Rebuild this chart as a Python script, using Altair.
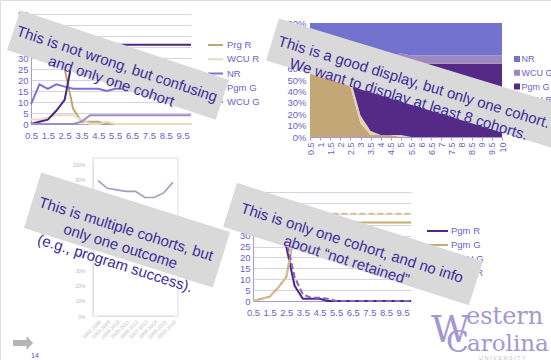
import altair as alt
import pandas as pd

W, H = 551, 360
FONT = "Liberation Sans"
LBL = "#6b5fc7"
GRID = "#d6d1ec"
DOM = "#a59bd9"
BOX = "#d9d9d9"
TXT = "#3d2c9c"

# ---------------- data ----------------
steps = [0.5, 1.0, 1.5, 2.0, 2.5, 3.0, 3.5, 4.0, 4.5, 5.0,
         5.5, 6.0, 6.5, 7.0, 7.5, 8.0, 8.5, 9.0, 9.5, 10.0]
label_steps = [0.5, 1.5, 2.5, 3.5, 4.5, 5.5, 6.5, 7.5, 8.5, 9.5]
y_ticks = [0, 5, 10, 15, 20, 25, 30, 35, 40, 45, 50]

prg_r = [46, 38, 36, 30, 25, 7, 1, 1, 1, 0, 0, 0, 0, 0, 0, 0, 0, 0, 0, 0]
wcu_r = [2, 2, 3, 4, 4, 4, 2, 0, 0, 1, 0, 0, 0, 0, 0, 0, 0, 0, 0, 0]
nr = [9, 18, 16, 18, 17, 16, 16, 16, 16, 15, 16, 16, 16, 16, 16, 16, 16, 16, 16, 16]
pgm_g = [0, 1, 2, 6, 11, 31, 36, 36, 36, 36, 36, 36, 36, 36, 36, 36, 36, 36, 36, 36]
wcu_g = [0, 0, 0, 0, 0, 0, 1, 4, 4, 4, 4, 4, 4, 4, 4, 4, 4, 4, 4, 4]

series_tl = ["Prg R", "WCU R", "NR", "Pgm G", "WCU G"]
colors_tl = ["#c3a46e", "#e7dbc0", "#7773d3", "#4f2683", "#9d8cc9"]

series_tr = ["Prg R", "WCU R", "Pgm G", "WCU G", "NR"]      # bottom -> top
colors_tr = ["#c3a776", "#e2d3b3", "#552a86", "#9d88c0", "#7472cf"]
legend_tr = ["NR", "WCU G", "Pgm G", "WCU R", "Prg R"]

br_pgm_r = [46, 38, 36, 30, 25, 7, 1, 1, 1, 0, 0, 0, 0, 0, 0, 0, 0, 0, 0, 0]
br_pgm_g = [0, 1, 2, 6, 11, 31, 36, 36, 36, 36, 36, 36, 36, 36, 36, 36, 36, 36, 36, 36]
br_wcu_r = [48, 40, 39, 34, 28, 11, 3, 1.5, 1.5, 1, 0, 0, 0, 0, 0, 0, 0, 0, 0, 0]
br_wcu_g = [0, 1, 2, 6, 11, 32, 37, 40, 40, 40, 40, 40, 40, 40, 40, 40, 40, 40, 40, 40]
series_br = ["Pgm R", "Pgm G", "WCU G", "WCU R"]
colors_br = ["#4f2683", "#c8aa72", "#d6c196", "#8466bd"]
dashes_br = [[1, 0], [1, 0], [6, 3], [6, 3]]

cohorts = ["2002-2008", "2003-2009", "2004-2010", "2005-2011", "2006-2012",
           "2007-2013", "2008-2014", "2009-2015", "2010-2016"]
success = [0.89, 0.84, 0.83, 0.82, 0.82, 0.78, 0.78, 0.81, 0.88]
pct_ticks = [0, 0.1, 0.2, 0.3, 0.4, 0.5, 0.6, 0.7, 0.8, 0.9, 1.0]

callout_texts = [
    ["This is not wrong, but confusing", "and only one cohort"],
    ["This is a good display, but only one cohort.", "We want to display at least 8 cohorts."],
    ["This is multiple cohorts, but", "only one outcome", "(e.g., program success)."],
    ["This is only one cohort, and no info", "about \u201cnot retained\u201d"],
]


def long_df(names, arrays):
    rows = []
    for k, (name, arr) in enumerate(zip(names, arrays)):
        for s, v in zip(steps, arr):
            rows.append({"step": s, "value": v, "series": name, "rank": k})
    return pd.DataFrame(rows)


one = pd.DataFrame({"k": [0]})


def ax(**kw):
    base = dict(title=None, labelFont=FONT, labelFontSize=9.5, labelColor=LBL,
                domainColor=DOM, labelOverlap=False, labelFlush=False)
    base.update(kw)
    return alt.Axis(**base)


layers = []

# ---------------- top-left line chart ----------------
tl_df = long_df(series_tl, [prg_r, wcu_r, nr, pgm_g, wcu_g])
tl_x = alt.Scale(domain=[0.5, 10], range=[31, 191], nice=False, zero=False)
tl_y = alt.Scale(domain=[0, 50], range=[124, 14], nice=False)
layers.append(alt.Chart(tl_df).mark_line(strokeWidth=2).encode(
    x=alt.X("step:Q", scale=tl_x, axis=ax(orient="bottom", offset=124 - H, values=label_steps,
                                          format=".1f", grid=False, ticks=False, labelPadding=6)),
    y=alt.Y("value:Q", scale=tl_y, axis=ax(orient="left", offset=-31, values=y_ticks, grid=True,
                                           gridColor=GRID, ticks=False, labelPadding=3)),
    color=alt.Color("series:N", scale=alt.Scale(domain=series_tl, range=colors_tl), legend=None),
))
tl_leg = pd.DataFrame({"series": series_tl})
tl_leg_y = alt.Scale(type="point", domain=series_tl, range=[45, 102], padding=0)
layers.append(alt.Chart(tl_leg).mark_rule(strokeWidth=2).encode(
    x=alt.value(208), x2=alt.value(223),
    y=alt.Y("series:N", scale=tl_leg_y, axis=None),
    color=alt.Color("series:N", scale=alt.Scale(domain=series_tl, range=colors_tl), legend=None),
))
layers.append(alt.Chart(tl_leg).mark_text(align="left", baseline="middle", fontSize=9.5,
                                          font=FONT, color=LBL).encode(
    x=alt.value(227), y=alt.Y("series:N", scale=tl_leg_y, axis=None), text="series:N"))

# ---------------- top-right stacked area ----------------
tr_df = long_df(series_tr, [prg_r, wcu_r, pgm_g, wcu_g, nr])
tr_x = alt.Scale(domain=[0.5, 10], range=[310, 502], nice=False, zero=False)
tr_y = alt.Scale(domain=[0, 1], range=[137, 23], nice=False)
layers.append(alt.Chart(tr_df).mark_area().encode(
    x=alt.X("step:Q", scale=tr_x, axis=ax(orient="bottom", offset=137 - H, values=steps,
                                          format=".1~f", grid=False, ticks=True, tickSize=3,
                                          tickColor=DOM, labelAngle=270, labelPadding=2,
                                          labelFontSize=9)),
    y=alt.Y("value:Q", stack="normalize", scale=tr_y,
            axis=ax(orient="left", offset=-310, values=pct_ticks, format=".0%", grid=False,
                    ticks=False, labelPadding=4)),
    color=alt.Color("series:N", scale=alt.Scale(domain=series_tr, range=colors_tr), legend=None),
    order=alt.Order("rank:Q"),
))
tr_leg = pd.DataFrame({"series": legend_tr})
tr_leg_y = alt.Scale(type="point", domain=legend_tr, range=[59, 114], padding=0)
layers.append(alt.Chart(tr_leg).mark_square(size=36, opacity=1).encode(
    x=alt.value(517), y=alt.Y("series:N", scale=tr_leg_y, axis=None),
    color=alt.Color("series:N", scale=alt.Scale(domain=series_tr, range=colors_tr), legend=None),
))
layers.append(alt.Chart(tr_leg).mark_text(align="left", baseline="middle", fontSize=9,
                                          font=FONT, color=LBL).encode(
    x=alt.value(521.5), y=alt.Y("series:N", scale=tr_leg_y, axis=None), text="series:N"))

# ---------------- bottom-left faded cohort chart ----------------
layers.append(alt.Chart(one).mark_rect(fillOpacity=0, stroke="#dedede", strokeWidth=1).encode(
    x=alt.value(93), x2=alt.value(178), y=alt.value(158), y2=alt.value(316)))
bl_df = pd.DataFrame({"cohort": cohorts, "rate": success})
bl_x = alt.Scale(type="point", domain=cohorts, range=[98, 173], padding=0)
bl_y = alt.Scale(domain=[0, 1], range=[316, 164], nice=False)
layers.append(alt.Chart(bl_df).mark_line(strokeWidth=1.6, color="#a49bc2").encode(
    x=alt.X("cohort:N", scale=bl_x, sort=cohorts,
            axis=ax(orient="bottom", offset=316 - H, labelAngle=315, labelFontSize=5,
                    labelColor="#b9b9b9", domainColor="#dddddd", ticks=False, grid=False,
                    labelPadding=3)),
    y=alt.Y("rate:Q", scale=bl_y,
            axis=ax(orient="left", offset=-93, values=pct_ticks, format=".0%", labelFontSize=5,
                    labelColor="#b9b9b9", domainColor="#dddddd", ticks=False, grid=False,
                    labelPadding=8)),
))

# ---------------- bottom-right line chart ----------------
br_df = long_df(series_br, [br_pgm_r, br_pgm_g, br_wcu_g, br_wcu_r])
br_x = alt.Scale(domain=[0.5, 10], range=[253, 411], nice=False, zero=False)
br_y = alt.Scale(domain=[0, 50], range=[301, 192], nice=False)
layers.append(alt.Chart(br_df).mark_line(strokeWidth=2).encode(
    x=alt.X("step:Q", scale=br_x, axis=ax(orient="bottom", offset=301 - H, values=label_steps,
                                          format=".1f", grid=False, ticks=False, labelPadding=6)),
    y=alt.Y("value:Q", scale=br_y, axis=ax(orient="left", offset=-253, values=y_ticks, grid=True,
                                           gridColor=GRID, ticks=False, labelPadding=3)),
    color=alt.Color("series:N", scale=alt.Scale(domain=series_br, range=colors_br), legend=None),
    strokeDash=alt.StrokeDash("series:N", scale=alt.Scale(domain=series_br, range=dashes_br),
                              legend=None),
))
br_leg = pd.DataFrame({"series": series_br})
br_leg_y = alt.Scale(type="point", domain=series_br, range=[231, 273], padding=0)
layers.append(alt.Chart(br_leg).mark_rule(strokeWidth=2).encode(
    x=alt.value(427), x2=alt.value(448),
    y=alt.Y("series:N", scale=br_leg_y, axis=None),
    color=alt.Color("series:N", scale=alt.Scale(domain=series_br, range=colors_br), legend=None),
    strokeDash=alt.StrokeDash("series:N", scale=alt.Scale(domain=series_br, range=dashes_br),
                              legend=None),
))
layers.append(alt.Chart(br_leg).mark_text(align="left", baseline="middle", fontSize=9.5,
                                          font=FONT, color=LBL).encode(
    x=alt.value(451), y=alt.Y("series:N", scale=br_leg_y, axis=None), text="series:N"))

# ---------------- logo, page number, arrow ----------------
LOGO = "#a398cf"


def deco_text(txt, x, y, size, color, font="DejaVu Serif", baseline="alphabetic"):
    return alt.Chart(one).mark_text(text=txt, align="left", baseline=baseline, fontSize=size,
                                    font=font, color=color).encode(
        x=alt.value(x), y=alt.value(y))


layers.append(deco_text("W", 431, 342, 38, LOGO))
layers.append(deco_text("estern", 466, 324, 24, LOGO))
layers.append(deco_text("C", 446, 352, 30, LOGO))
layers.append(deco_text("arolina", 467, 351, 23, LOGO))
layers.append(deco_text("U N I V E R S I T Y", 479, 359.5, 5.5, "#c4bcdd", font=FONT))
layers.append(deco_text("14", 31, 358, 7, "#5a4aa8", font=FONT))
layers.append(alt.Chart(one).mark_point(
    shape="M-1,-0.3L0.35,-0.3L0.35,-0.7L1,0L0.35,0.7L0.35,0.3L-1,0.3Z",
    size=400, filled=True, color="#b5b5b5", opacity=1, strokeWidth=0).encode(
    x=alt.value(23), y=alt.value(343)))

# ---------------- callouts ----------------
callouts = [
    (118, 65, 220, 42, 18.5),
    (415, 83, 298, 44, 17.0),
    (127, 230, 198, 58, 17.5),
    (353, 244, 258, 46, 17.7),
]
for (cx, cy, w, h, ang), lines in zip(callouts, callout_texts):
    r = round(h / w, 4)
    layers.append(alt.Chart(one).mark_point(
        shape=f"M-1,{-r}L1,{-r}L1,{r}L-1,{r}Z", size=w * w, angle=ang, filled=True,
        color=BOX, opacity=1, strokeWidth=0).encode(x=alt.value(cx), y=alt.value(cy)))
    layers.append(alt.Chart(one).mark_text(
        text=lines, angle=ang, fontSize=15, lineHeight=18, align="center", baseline="middle",
        font=FONT, color=TXT).encode(x=alt.value(cx - 1), y=alt.value(cy - 1)))

chart = alt.layer(*layers).resolve_scale(
    x="independent", y="independent", color="independent", strokeDash="independent"
).properties(
    width=W, height=H, autosize=alt.AutoSizeParams(type="none"), padding=0
).configure_view(stroke=None).configure(background="white")

chart.save("out.html", embed_options={"renderer": "svg", "actions": False})
